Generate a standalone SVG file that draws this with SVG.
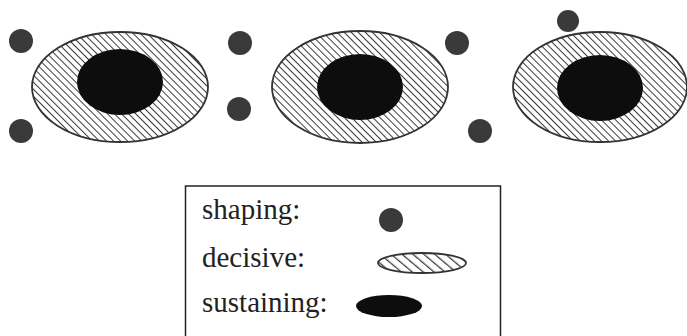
<svg xmlns="http://www.w3.org/2000/svg" width="687" height="336" viewBox="0 0 687 336">
<defs>
<pattern id="hatch" patternUnits="userSpaceOnUse" width="5" height="5" patternTransform="rotate(-45)">
<rect width="5" height="5" fill="#fff"/>
<line x1="0" y1="0" x2="0" y2="5" stroke="#3a3a3a" stroke-width="2"/>
</pattern>
<pattern id="hatchS" patternUnits="userSpaceOnUse" width="7" height="7" patternTransform="rotate(-50)">
<rect width="7" height="7" fill="#fff"/>
<line x1="0" y1="0" x2="0" y2="7" stroke="#3a3a3a" stroke-width="2.5"/>
</pattern>
<style>
.dot{fill:#3a3a3a}
.dec{fill:url(#hatch);stroke:#333;stroke-width:1.8}
.sus{fill:#0d0d0d}
.lbl{font-family:"Liberation Serif",serif;font-size:29px;fill:#222}
</style>
</defs>
<rect width="687" height="336" fill="#fff"/>
<g id="shaping-dots">
<circle class="dot" cx="21" cy="41" r="12"/>
<circle class="dot" cx="21" cy="131" r="12"/>
<circle class="dot" cx="240" cy="43" r="12"/>
<circle class="dot" cx="239" cy="109" r="12"/>
<circle class="dot" cx="457" cy="43" r="12"/>
<circle class="dot" cx="480" cy="131" r="12"/>
<circle class="dot" cx="568" cy="21" r="11"/>
</g>
<g id="op1">
<ellipse class="dec" cx="120" cy="87" rx="88" ry="55"/>
<ellipse class="sus" cx="120" cy="82" rx="43" ry="33"/>
</g>
<g id="op2">
<ellipse class="dec" cx="360" cy="87" rx="88" ry="56"/>
<ellipse class="sus" cx="360" cy="87" rx="43" ry="33"/>
</g>
<g id="op3">
<ellipse class="dec" cx="600" cy="87" rx="87" ry="55"/>
<ellipse class="sus" cx="600" cy="88" rx="43" ry="33"/>
</g>
<g id="legend">
<rect x="185.5" y="186" width="315" height="160" fill="none" stroke="#222" stroke-width="1.5"/>
<text class="lbl" x="202" y="219">shaping:</text>
<text class="lbl" x="202" y="267">decisive:</text>
<text class="lbl" x="202" y="312">sustaining:</text>
<circle class="dot" cx="391" cy="220" r="12"/>
<ellipse cx="422" cy="263" rx="44" ry="10" fill="url(#hatchS)" stroke="#333" stroke-width="1.8"/>
<ellipse class="sus" cx="389" cy="306" rx="33" ry="11"/>
</g>
<g id="connectors"/>
</svg>
